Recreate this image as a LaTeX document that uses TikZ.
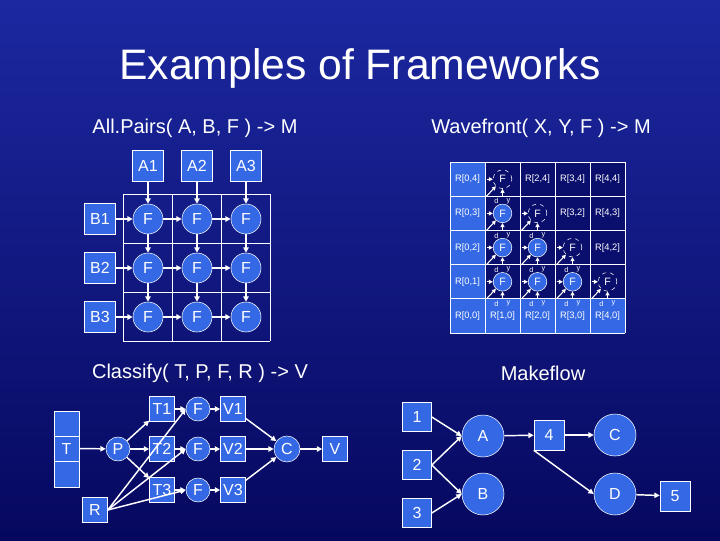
\documentclass[tikz,border=0pt]{standalone}
\usepackage{fontspec}
\setmainfont{Liberation Sans}
\usetikzlibrary{arrows.meta,calc}
\definecolor{bx}{RGB}{52,104,228}
\definecolor{bgA}{RGB}{28,40,160}
\definecolor{bgB}{RGB}{6,8,95}
\begin{document}
\begin{tikzpicture}[x=0.75pt,y=-0.75pt,
  box/.style={draw=white,fill=bx,text=white,minimum width=#1*0.75pt,minimum height=#1*0.75pt,inner sep=0pt,font=\fontsize{12}{12}\selectfont},
  circ/.style={circle,draw=white,fill=bx,text=white,minimum size=#1*0.75pt,inner sep=0pt,font=\fontsize{12}{12}\selectfont},
  arr/.style={white,line width=1.1pt,-{Triangle[length=4pt,width=4pt]}},
  warr/.style={white,line width=0.8pt,-{Triangle[length=3pt,width=3pt]}},
  gridl/.style={white,line width=0.6pt},
  tiny/.style={text=white,font=\fontsize{5.5}{5.5}\selectfont,inner sep=0pt},
  sub/.style={text=white,font=\fontsize{15}{15}\selectfont}]
\shade[left color=bgA,right color=bgB,shading angle=0] (0,0) rectangle (720,540);
\useasboundingbox (0,0) rectangle (720,540);
\node[text=white,font=\fontsize{32}{32}\selectfont] (title) at (360,68) {Examples of Frameworks};
\node[sub] (s1) at (195,128) {All.Pairs( A, B, F ) -> M};
\node[sub] (s2) at (541,128) {Wavefront( X, Y, F ) -> M};
\node[sub] (s3) at (200,373) {Classify( T, P, F, R ) -> V};
\node[sub] (s4) at (543,373) {Makeflow};
% AllPairs
\foreach \k in {0,1,2,3}{
 \draw[gridl] ({123+49*\k},194) -- ({123+49*\k},341);
 \draw[gridl] (123,{194+49*\k}) -- (270,{194+49*\k});}
\foreach \i/\x in {1/148,2/197,3/246}{\node[box=31] (A\i) at (\x,166) {A\i};}
\foreach \j/\y in {1/219,2/268,3/317}{\node[box=31] (B\j) at (100,\y) {B\j};}
\foreach \i/\x in {1/148,2/197,3/246}{\foreach \j/\y in {1/219,2/268,3/317}{\node[circ=30] (F\i\j) at (\x,\y) {F};}}
\foreach \i in {1,2,3}{
 \draw[arr] (A\i) -- (F\i1); \draw[arr] (F\i1) -- (F\i2); \draw[arr] (F\i2) -- (F\i3);
 \draw[arr] (B\i) -- (F1\i); \draw[arr] (F1\i) -- (F2\i); \draw[arr] (F2\i) -- (F3\i);}
% Wavefront
\fill[bx] (450,162) rectangle (485,333);
\fill[bx] (450,299) rectangle (625,333);
\fill[bgB!80!bgA] (485,162) rectangle (625,299);
\foreach \k in {0,...,5}{
 \draw[gridl] ({450+35*\k},162) -- ({450+35*\k},333);
 \draw[gridl] (450,{162+34.2*\k}) -- (625,{162+34.2*\k});}
\foreach \c/\r/\t in {0/4/{R[0,4]},0/3/{R[0,3]},0/2/{R[0,2]},0/1/{R[0,1]},0/0/{R[0,0]},1/0/{R[1,0]},2/0/{R[2,0]},3/0/{R[3,0]},4/0/{R[4,0]},2/4/{R[2,4]},3/4/{R[3,4]},4/4/{R[4,4]},3/3/{R[3,2]},4/3/{R[4,3]},4/2/{R[4,2]}}{
 \node[tiny,font=\fontsize{7}{7}\selectfont] (L\c\r) at ({467.5+35*\c},{316-34.2*\r}) {\t};}
\foreach \c/\r/\s in {1/4/d,1/3/s,2/3/d,1/2/s,2/2/s,3/2/d,1/1/s,2/1/s,3/1/s,4/1/d}{
 \coordinate (P\c\r) at ({502.5+35*(\c-1)},{316-34.2*\r});
 \if\s d
 \node[circle,draw=white,dashed,text=white,minimum size=14pt,inner sep=0pt,font=\fontsize{8}{8}\selectfont] (W\c\r) at (P\c\r) {F};
 \else
 \node[circle,draw=white,fill=bx,text=white,minimum size=14pt,inner sep=0pt,font=\fontsize{8}{8}\selectfont] (W\c\r) at (P\c\r) {F};
 \fi
 \coordinate (H\c\r) at ($(P\c\r)+(-16,0)$);
 \coordinate (V\c\r) at ($(P\c\r)+(0,17)$);
 \coordinate (D\c\r) at ($(P\c\r)+(-16,17)$);
 \draw[warr] (H\c\r) -- (W\c\r);
 \draw[warr] (V\c\r) -- (W\c\r);
 \draw[warr] (D\c\r) -- (W\c\r);
 \node[tiny] (d\c\r) at ($(P\c\r)+(-6,22)$) {d};
 \node[tiny] (y\c\r) at ($(P\c\r)+(6,22)$) {y};
}
% Classify
\draw[white,fill=bx] (54,411) rectangle (79,487);
\draw[white] (54,436) -- (79,436) (54,461) -- (79,461);
\node[text=white,font=\fontsize{12}{12}\selectfont] (T) at (66.5,448.5) {T};
\node[circ=24] (P) at (118,449) {P};
\node[box=25] (T1) at (162,409) {T1};
\node[box=25] (T2) at (162,449) {T2};
\node[box=25] (T3) at (162,490) {T3};
\node[circ=24] (CF1) at (198,409) {F};
\node[circ=24] (CF2) at (198,449) {F};
\node[circ=24] (CF3) at (198,490) {F};
\node[box=25] (V1) at (233,409) {V1};
\node[box=25] (V2) at (233,449) {V2};
\node[box=25] (V3) at (233,490) {V3};
\node[circ=26] (C) at (287,449) {C};
\node[box=25] (V) at (335,449) {V};
\node[box=25] (R) at (95,510) {R};
\draw[arr] (79,448.5) -- (P);
\foreach \k in {1,2,3}{\draw[arr] (P) -- (T\k); \draw[arr] (T\k) -- (CF\k); \draw[arr] (CF\k) -- (V\k); \draw[arr] (V\k) -- (C); \draw[arr] (R.east) -- (CF\k.west);}
\draw[arr] (C) -- (V);
% Makeflow
\node[box=29] (M1) at (417,417) {1};
\node[box=29] (M2) at (417,465) {2};
\node[box=29] (M3) at (417,513) {3};
\node[circ=42] (MA) at (483,436) {A};
\node[circ=42] (MB) at (483,494) {B};
\node[box=30] (M4) at (549,435) {4};
\node[circ=42] (MC) at (615,435) {C};
\node[circ=42] (MD) at (615,494) {D};
\node[box=30] (M5) at (675,496) {5};
\draw[arr] (M1.east) -- (MA.west);
\draw[arr] (M2.east) -- (MA.west);
\draw[arr] (M2.east) -- (MB.west);
\draw[arr] (M3.east) -- (MB.west);
\draw[arr] (MA) -- (M4);
\draw[arr] (M4) -- (MC);
\draw[arr] (M4.south west) -- (MD.west);
\draw[arr] (MD) -- (M5);
\end{tikzpicture}
\end{document}
